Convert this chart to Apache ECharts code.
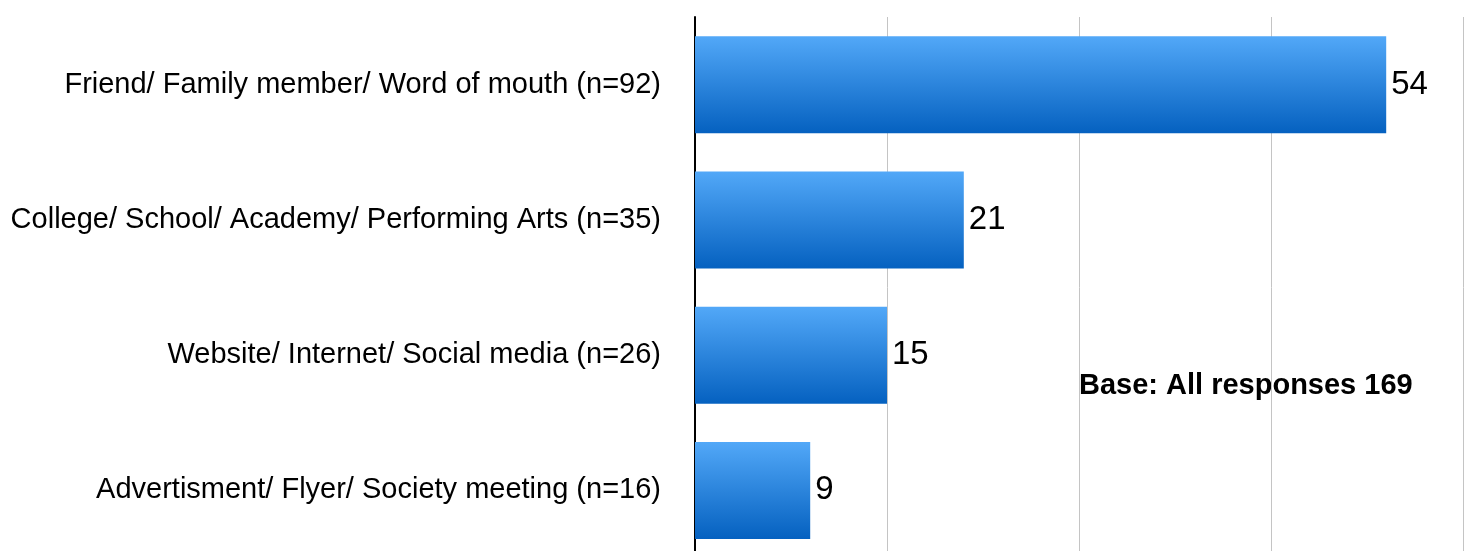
<!DOCTYPE html>
<html>
<head>
<meta charset="utf-8">
<style>
  html, body { margin: 0; padding: 0; background: #ffffff; overflow: hidden; }
  #chart { width: 1470px; height: 566px; }
</style>
<script src="https://cdn.jsdelivr.net/npm/echarts@6/dist/echarts.min.js"></script>
</head>
<body>
<div id="chart"></div>
<script>
const categories = [
  'Friend/ Family member/ Word of mouth (n=92)',
  'College/ School/ Academy/ Performing Arts (n=35)',
  'Website/ Internet/ Social media (n=26)',
  'Advertisment/ Flyer/ Society meeting (n=16)'
];
const values = [54, 21, 15, 9];
const baseNote = 'Base: All responses 169';

const chart = echarts.init(document.getElementById('chart'), null, { renderer: 'canvas' });
const font = '"Liberation Sans", Arial, Helvetica, sans-serif';

chart.setOption({
  animation: false,
  backgroundColor: '#ffffff',
  grid: { left: 695, right: 7, top: 17, height: 541, containLabel: false },
  xAxis: {
    type: 'value',
    min: 0, max: 60, interval: 15,
    axisLine: { show: false },
    axisTick: { show: false },
    axisLabel: { show: false },
    splitLine: { show: true, lineStyle: { color: '#c4c4c4', width: 1 } }
  },
  yAxis: {
    type: 'category',
    inverse: true,
    data: categories,
    axisLine: { show: true, lineStyle: { color: '#000000', width: 2 } },
    axisTick: { show: false },
    axisLabel: { margin: 34, color: '#000000', fontSize: 29, fontFamily: font }
  },
  series: [{
    type: 'bar',
    data: values,
    barWidth: 97,
    itemStyle: {
      color: new echarts.graphic.LinearGradient(0, 0, 0, 1, [
        { offset: 0, color: '#52a8f8' },
        { offset: 1, color: '#0561c0' }
      ])
    },
    label: {
      show: true, position: 'right', distance: 5,
      color: '#000000', fontSize: 33, fontFamily: font
    }
  }],
  graphic: [{
    type: 'text',
    left: 1079, top: 371,
    style: { text: baseNote, fill: '#000000', font: 'bold 29px ' + font }
  }]
});
</script>
</body>
</html>
